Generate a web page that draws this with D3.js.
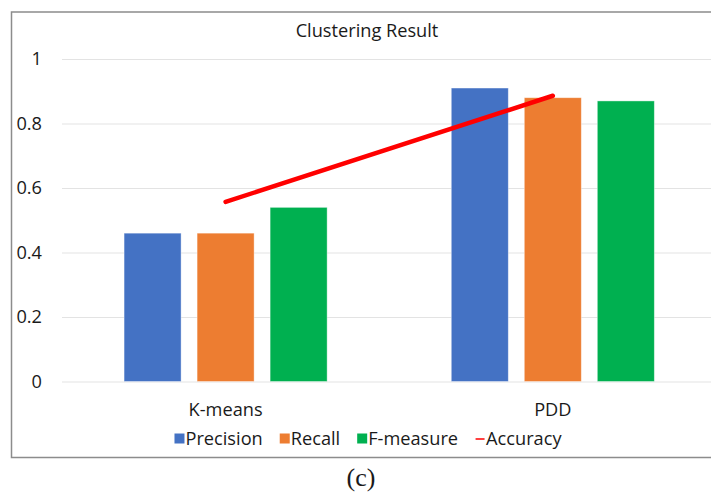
<!DOCTYPE html>
<html>
<head>
<meta charset="utf-8">
<script src="https://cdn.jsdelivr.net/npm/d3@7"></script>
<style>
  body { margin: 0; background: #ffffff; }
  svg { display: block; }
  text { font-family: "Open Sans", Lato, sans-serif; fill: #1a1a1a; }
</style>
</head>
<body>
<svg id="chart" width="711" height="492"></svg>
<script>
const categories = ["K-means", "PDD"];
const seriesNames = ["Precision", "Recall", "F-measure"];
const precision = [0.46, 0.91];
const recall = [0.46, 0.88];
const fmeasure = [0.54, 0.87];
const accuracy = [0.557, 0.886];
const yTicks = [0, 0.2, 0.4, 0.6, 0.8, 1];
const yTickLabels = ["0", "0.2", "0.4", "0.6", "0.8", "1"];
const title = "Clustering Result";
const caption = "(c)";
const colors = { "Precision": "#4472C4", "Recall": "#ED7D31", "F-measure": "#00B050", "Accuracy": "#FF0000" };

const FONT = "'Open Sans', Lato, sans-serif";
const FS = 18.2;
const seriesValues = [precision, recall, fmeasure];
const svg = d3.select("#chart");

// chart frame (right edge is cropped off the picture)
svg.append("path")
  .attr("d", "M 760 12 H 11.5 V 457.5 H 760")
  .attr("fill", "none").attr("stroke", "#8c8c8c").attr("stroke-width", 1.5);

const plotLeft = 62, plotRight = 716.4, plotTop = 59, plotBottom = 381.5;
const y = d3.scaleLinear().domain([0, 1]).range([plotBottom, plotTop]);
const x0 = d3.scaleBand().domain(categories).range([plotLeft, plotRight]);
const x1 = d3.scaleBand().domain(seriesNames).range([0, x0.bandwidth()])
  .paddingInner(0.219).paddingOuter(0.85);

// y axis with gridlines
const yAxis = d3.axisLeft(y)
  .tickValues(yTicks)
  .tickFormat((d, i) => yTickLabels[i])
  .tickSize(-(plotRight - plotLeft))
  .tickPadding(20);
const gy = svg.append("g").attr("transform", `translate(${plotLeft},0)`).call(yAxis);
gy.select(".domain").remove();
gy.selectAll(".tick line").attr("stroke", "#e3e3e3").attr("stroke-width", 1);
gy.selectAll(".tick text").attr("font-size", FS).attr("fill", "#1a1a1a")
  .style("font-family", FONT);

// bars
const groups = svg.append("g").selectAll("g").data(categories).join("g")
  .attr("transform", d => `translate(${x0(d)},0)`);
groups.selectAll("rect")
  .data((c, ci) => seriesNames.map((s, si) => ({ s, v: seriesValues[si][ci] })))
  .join("rect")
  .attr("x", d => x1(d.s))
  .attr("width", x1.bandwidth())
  .attr("y", d => y(d.v))
  .attr("height", d => y(0) - y(d.v))
  .attr("fill", d => colors[d.s])
  .attr("stroke", "#ffffff").attr("stroke-opacity", 0.5).attr("stroke-width", 0.8);

// accuracy line
const line = d3.line()
  .x((d, i) => x0(categories[i]) + x0.bandwidth() / 2)
  .y(d => y(d));
svg.append("path").datum(accuracy)
  .attr("d", line)
  .attr("fill", "none").attr("stroke", colors["Accuracy"])
  .attr("stroke-width", 4.5).attr("stroke-linecap", "round");

// x axis labels
const xAxis = d3.axisBottom(x0).tickSize(0).tickPadding(22);
const gx = svg.append("g").attr("transform", `translate(0,${plotBottom})`).call(xAxis);
gx.select(".domain").remove();
gx.selectAll(".tick text").attr("font-size", FS).attr("fill", "#1a1a1a")
  .style("font-family", FONT);

// title
svg.append("text").attr("x", 367).attr("y", 36.5).attr("text-anchor", "middle")
  .attr("font-size", FS).text(title);

// legend
const legendItems = seriesNames.concat(["Accuracy"]);
const legend = svg.append("g");
let lx = 0;
const gap = 17;
legendItems.forEach((name, i) => {
  const g = legend.append("g").attr("transform", `translate(${lx},0)`);
  if (name === "Accuracy") {
    g.append("line").attr("x1", 0.5).attr("x2", 9.5).attr("y1", -6).attr("y2", -6)
      .attr("stroke", colors[name]).attr("stroke-width", 1.5);
  } else {
    g.append("rect").attr("x", 0).attr("y", -11.5).attr("width", 10).attr("height", 10)
      .attr("fill", colors[name]);
  }
  const t = g.append("text").attr("x", 11).attr("y", 0).attr("font-size", FS).text(name);
  lx += 11 + t.node().getComputedTextLength() + gap;
});
const legendWidth = lx - gap;
legend.attr("transform", `translate(${368 - legendWidth / 2},445)`);

// caption
svg.append("text").attr("x", 361).attr("y", 486).attr("text-anchor", "middle")
  .style("font-family", "'Liberation Serif', 'DejaVu Serif', serif")
  .attr("font-size", 26).text(caption);
</script>
</body>
</html>
